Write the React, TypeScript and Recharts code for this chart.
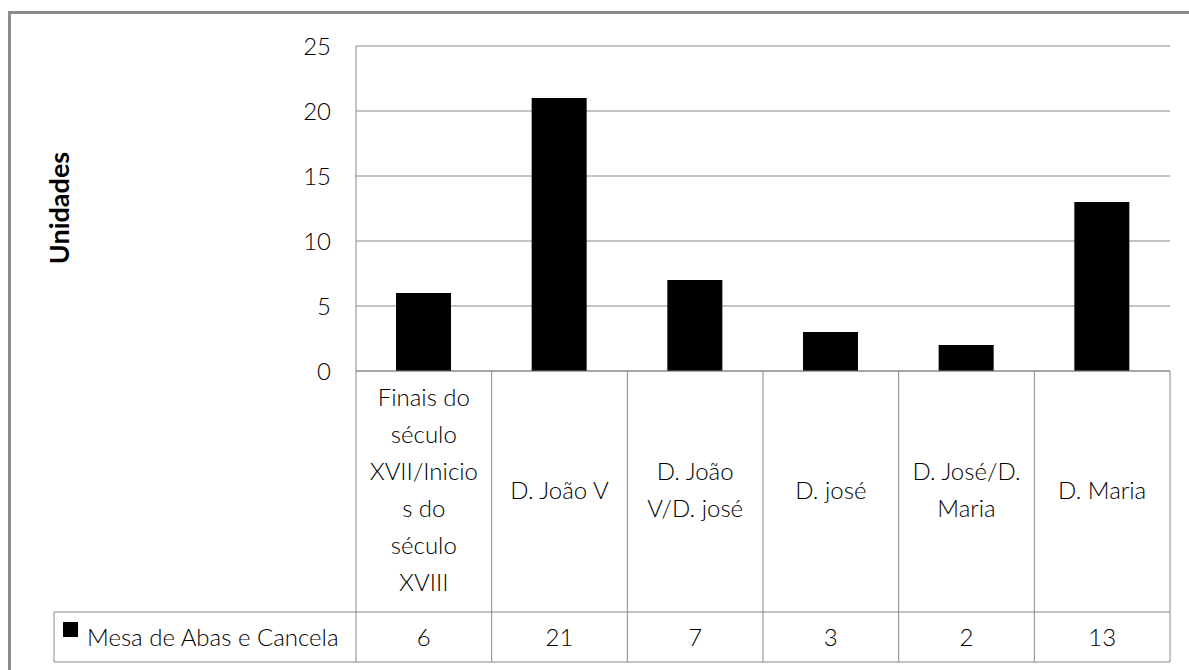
import React from 'react';
import { BarChart, Bar, XAxis, YAxis, CartesianGrid } from 'recharts';

const categories = [
  'Finais do século XVII/Inicios do século XVIII',
  'D. João V',
  'D. João V/D. josé',
  'D. josé',
  'D. José/D. Maria',
  'D. Maria',
];
const categoryLines = [
  ['Finais do', 'século', 'XVII/Inicio', 's do', 'século', 'XVIII'],
  ['D. João V'],
  ['D. João', 'V/D. josé'],
  ['D. josé'],
  ['D. José/D.', 'Maria'],
  ['D. Maria'],
];
const seriesName = 'Mesa de Abas e Cancela';
const values = [6, 21, 7, 3, 2, 13];
const yTicks = [0, 5, 10, 15, 20, 25];
const axisTitle = 'Unidades';

const data = categories.map((c, i) => ({ category: c, value: values[i] }));

const W = 1189;
const H = 670;
const PLOT_L = 356;
const PLOT_R = 1170;
const PLOT_T = 46;
const PLOT_B = 371;
const ROW1_B = 612;
const ROW2_B = 662;
const LEGEND_L = 54;
const BW = (PLOT_R - PLOT_L) / categories.length;
const FONT = 'Lato, "Open Sans", sans-serif';
const GRID = '#888888';
const LINE_H = 37;
const FS = 24;
const FW = 300;

function TableTick(props: any) {
  const { x, y, payload, index } = props;
  const i = payload && payload.index != null ? payload.index : index;
  const lines = categoryLines[i] || [];
  const capCenter = 490;
  const first = capCenter - ((lines.length - 1) * LINE_H) / 2;
  const capOff = FS * 0.36;
  return (
    <g>
      {i === 0 && (
        <g>
          <line x1={LEGEND_L} x2={PLOT_R} y1={ROW1_B} y2={ROW1_B} stroke={GRID} strokeWidth={1} />
          <line x1={LEGEND_L} x2={PLOT_R} y1={ROW2_B} y2={ROW2_B} stroke={GRID} strokeWidth={1} />
          <line x1={LEGEND_L} x2={LEGEND_L} y1={ROW1_B} y2={ROW2_B} stroke={GRID} strokeWidth={1} />
          <line x1={x - BW / 2} x2={x - BW / 2} y1={y} y2={ROW2_B} stroke={GRID} strokeWidth={1} />
          <rect x={63} y={622} width={15} height={15} fill="#000" />
          <text x={87} y={637 + capOff} fontFamily={FONT} fontWeight={FW} fontSize={FS} fill="#000">
            {seriesName}
          </text>
        </g>
      )}
      <line x1={x + BW / 2} x2={x + BW / 2} y1={y} y2={ROW2_B} stroke={GRID} strokeWidth={1} />
      {lines.map((ln, k) => (
        <text
          key={k}
          x={x}
          y={first + k * LINE_H + capOff}
          textAnchor="middle"
          fontFamily={FONT}
          fontWeight={FW}
          fontSize={FS}
          fill="#000"
        >
          {ln}
        </text>
      ))}
      <text x={x} y={637 + capOff} textAnchor="middle" fontFamily={FONT} fontWeight={FW} fontSize={FS} fill="#000">
        {values[i]}
      </text>
    </g>
  );
}

function YTitle() {
  return (
    <text
      x={0}
      y={0}
      transform={`translate(${60 + 9}, 208) rotate(-90)`}
      textAnchor="middle"
      fontFamily={FONT}
      fontWeight={700}
      fontSize={27}
      fill="#000"
    >
      {axisTitle}
    </text>
  );
}

export default function App() {
  return (
    <div style={{ position: 'absolute', left: 0, top: 0, width: W, height: H, overflow: 'hidden', background: '#fff' }}>
      <div
        style={{
          position: 'absolute',
          left: 8,
          top: 11,
          width: W,
          height: H,
          borderLeft: '3px solid #8c8c8c',
          borderTop: '3px solid #8c8c8c',
          boxSizing: 'border-box',
        }}
      />
      <div style={{ position: 'absolute', left: 0, top: 0 }}>
        <BarChart
          width={W}
          height={H}
          data={data}
          margin={{ top: PLOT_T, right: W - PLOT_R, left: PLOT_L - 60, bottom: 8 }}
        >
          <CartesianGrid vertical={false} stroke={GRID} />
          <XAxis
            dataKey="category"
            interval={0}
            tickLine={false}
            tickSize={0}
            tickMargin={0}
            height={H - PLOT_B - 8}
            axisLine={{ stroke: GRID }}
            tick={(p: any) => <TableTick {...p} />}
          />
          <YAxis
            width={60}
            domain={[0, 25]}
            ticks={yTicks}
            tickLine={false}
            tickSize={0}
            tickMargin={25}
            axisLine={{ stroke: GRID }}
            tick={{ fontFamily: FONT, fontWeight: FW, fontSize: FS, fill: '#000' }}
            label={() => <YTitle />}
          />
          <Bar dataKey="value" fill="#000" barSize={55} isAnimationActive={false} />
        </BarChart>
      </div>
    </div>
  );
}
